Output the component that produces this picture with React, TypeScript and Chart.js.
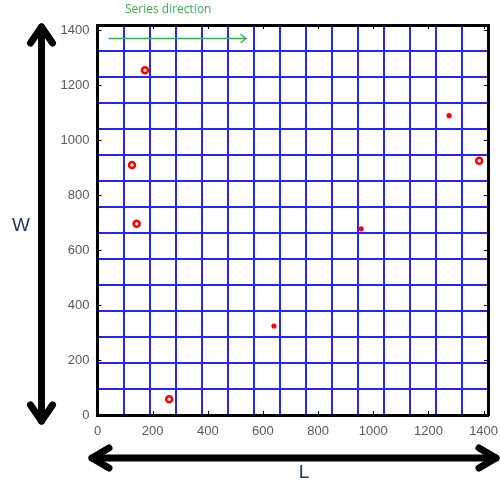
import React, { useEffect, useRef } from "react";
import { Chart, registerables } from "chart.js";

Chart.register(...registerables);

// ---- data ----
const RING_L = [172, 125, 142, 260, 1384];
const RING_W = [1255, 910, 696, 57, 926];
const DOT_L = [640, 956, 1275];
const DOT_W = [324, 678, 1090];
const X_TICKS = [0, 200, 400, 600, 800, 1000, 1200, 1400];
const Y_TICKS = [0, 200, 400, 600, 800, 1000, 1200, 1400];
const L_MAX = 1416;
const W_MAX = 1420;
const GRID_DIVISIONS = 15;
const X_TITLE = "L";
const Y_TITLE = "W";
const NOTE = "Series direction";

const BLUE = "#2424ff";
const TICK_COLOR = "#595959";
const TITLE_COLOR = "#1f3a68";
const GREEN = "#33b24f";

function gridValues(max: number) {
  const out: { value: number }[] = [];
  for (let i = 0; i <= GRID_DIVISIONS; i++) out.push({ value: (max * i) / GRID_DIVISIONS });
  return out;
}

function drawArrow(
  ctx: CanvasRenderingContext2D,
  x1: number, y1: number, x2: number, y2: number,
  width: number, headLen: number, headHalf: number, both: boolean, color: string
) {
  ctx.save();
  ctx.strokeStyle = color;
  ctx.lineWidth = width;
  ctx.lineCap = "round";
  ctx.lineJoin = "round";
  ctx.beginPath();
  ctx.moveTo(x1, y1);
  ctx.lineTo(x2, y2);
  ctx.stroke();
  const head = (tx: number, ty: number, fx: number, fy: number) => {
    const ang = Math.atan2(ty - fy, tx - fx);
    const bx = tx - headLen * Math.cos(ang);
    const by = ty - headLen * Math.sin(ang);
    const nx = -Math.sin(ang) * headHalf;
    const ny = Math.cos(ang) * headHalf;
    ctx.beginPath();
    ctx.moveTo(bx + nx, by + ny);
    ctx.lineTo(tx, ty);
    ctx.lineTo(bx - nx, by - ny);
    ctx.stroke();
  };
  head(x2, y2, x1, y1);
  if (both) head(x1, y1, x2, y2);
  ctx.restore();
}

const decor = {
  id: "decor",
  afterDraw(chart: any) {
    const ctx: CanvasRenderingContext2D = chart.ctx;
    const xs = chart.scales.x;
    const ys = chart.scales.y;
    const area = chart.chartArea;
    ctx.save();
    // inward tick marks
    ctx.strokeStyle = "#000";
    ctx.lineWidth = 1;
    ctx.beginPath();
    X_TICKS.forEach((v) => {
      const px = Math.round(xs.getPixelForValue(v)) + 0.5;
      ctx.moveTo(px, area.bottom);
      ctx.lineTo(px, area.bottom - 4);
      ctx.moveTo(px, area.top);
      ctx.lineTo(px, area.top + 4);
    });
    Y_TICKS.forEach((v) => {
      const py = Math.round(ys.getPixelForValue(v)) + 0.5;
      ctx.moveTo(area.left, py);
      ctx.lineTo(area.left + 4, py);
      ctx.moveTo(area.right, py);
      ctx.lineTo(area.right - 4, py);
    });
    ctx.stroke();

    // big double arrows
    drawArrow(ctx, 41.5, 27, 41.5, 421, 7, 16, 11, true, "#000");
    drawArrow(ctx, 92, 458, 496, 458, 7, 17, 10, true, "#000");

    // series direction
    drawArrow(ctx, 109, 38.5, 246, 38.5, 1.3, 5, 4, false, GREEN);
    ctx.fillStyle = GREEN;
    ctx.font = "12px 'Open Sans'";
    ctx.textAlign = "left";
    ctx.textBaseline = "middle";
    ctx.fillText(NOTE, 125, 10);

    // titles
    ctx.fillStyle = TITLE_COLOR;
    ctx.font = "19px 'Liberation Sans'";
    ctx.textAlign = "center";
    ctx.fillText(Y_TITLE, 21, 226);
    ctx.textBaseline = "top";
    ctx.fillText(X_TITLE, 304, 463);
    ctx.restore();
  },
};

const plain = (v: any) => String(v);

export default function App() {
  const ref = useRef<HTMLCanvasElement | null>(null);
  useEffect(() => {
    if (!ref.current) return;
    const chart = new Chart(ref.current, {
      type: "scatter",
      data: {
        datasets: [
          {
            label: "rings",
            data: RING_L.map((l, i) => ({ x: l, y: RING_W[i] })),
            pointRadius: 3,
            pointBorderWidth: 2.5,
            borderColor: "#ff0000",
            backgroundColor: "#fff0f0",
            xAxisID: "x",
            yAxisID: "y",
          },
          {
            label: "dots",
            data: DOT_L.map((l, i) => ({ x: l, y: DOT_W[i] })),
            pointRadius: 2.6,
            pointBorderWidth: 0,
            borderColor: "#ff0000",
            backgroundColor: "#ff0000",
            xAxisID: "x",
            yAxisID: "y",
          },
        ],
      },
      options: {
        responsive: false,
        animation: false,
        events: [],
        layout: { padding: 0 },
        plugins: {
          legend: { display: false },
          tooltip: { enabled: false },
        },
        scales: {
          xg: {
            type: "linear",
            position: "top",
            min: 0,
            max: L_MAX,
            afterBuildTicks: (s: any) => { s.ticks = gridValues(L_MAX); },
            afterFit: (s: any) => { s.height = 25; s.paddingLeft = 0; s.paddingRight = 0; },
            ticks: { display: false },
            grid: {
              drawTicks: false,
              lineWidth: 2,
              color: (c: any) => (c.index === 0 || c.index === GRID_DIVISIONS ? "rgba(0,0,0,0)" : BLUE),
            },
            border: { display: true, color: "#000", width: 3 },
          },
          yg: {
            type: "linear",
            position: "right",
            min: 0,
            max: W_MAX,
            afterBuildTicks: (s: any) => { s.ticks = gridValues(W_MAX); },
            afterFit: (s: any) => { s.width = 12; s.paddingTop = 0; s.paddingBottom = 0; },
            ticks: { display: false },
            grid: {
              drawTicks: false,
              lineWidth: 2,
              color: (c: any) => (c.index === 0 || c.index === GRID_DIVISIONS ? "rgba(0,0,0,0)" : BLUE),
            },
            border: { display: true, color: "#000", width: 3 },
          },
          x: {
            type: "linear",
            position: "bottom",
            min: 0,
            max: L_MAX,
            afterBuildTicks: (s: any) => { s.ticks = X_TICKS.map((v) => ({ value: v })); },
            afterFit: (s: any) => { s.height = 65; s.paddingLeft = 0; s.paddingRight = 0; },
            ticks: {
              color: TICK_COLOR,
              font: { family: "'Liberation Sans'", size: 13 },
              padding: 9,
              maxRotation: 0,
              autoSkip: false,
              callback: plain,
            },
            grid: { drawOnChartArea: false, drawTicks: false },
            border: { display: true, color: "#000", width: 3 },
          },
          y: {
            type: "linear",
            position: "left",
            min: 0,
            max: W_MAX,
            afterBuildTicks: (s: any) => { s.ticks = Y_TICKS.map((v) => ({ value: v })); },
            afterFit: (s: any) => { s.width = 97.5; s.paddingTop = 0; s.paddingBottom = 0; },
            ticks: {
              color: TICK_COLOR,
              font: { family: "'Liberation Sans'", size: 13 },
              padding: 8,
              autoSkip: false,
              callback: plain,
            },
            grid: { drawOnChartArea: false, drawTicks: false },
            border: { display: true, color: "#000", width: 3 },
          },
        },
      },
      plugins: [decor],
    } as any);
    return () => chart.destroy();
  }, []);
  return (
    <div style={{ position: "fixed", left: 0, top: 0, width: 500, height: 480, background: "#fff" }}>
      <canvas ref={ref} width={500} height={480} style={{ display: "block" }} />
    </div>
  );
}
